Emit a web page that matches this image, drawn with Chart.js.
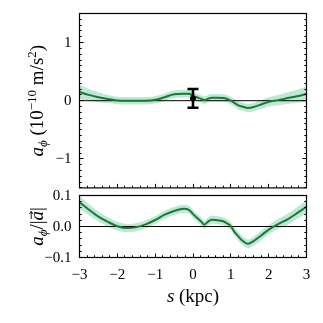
<!DOCTYPE html>
<html>
<head>
<meta charset="utf-8">
<script src="https://cdn.jsdelivr.net/npm/chart.js@4/dist/chart.umd.min.js"></script>
<style>
html, body { margin: 0; padding: 0; background: #fff; }
#wrap { position: relative; width: 323px; height: 323px; overflow: hidden; }
canvas { position: absolute; left: 0; }
#topPanel { top: 0; }
#ratioPanel { top: 190px; }
</style>
</head>
<body>
<div id="wrap">
  <canvas id="topPanel" width="323" height="196"></canvas>
  <canvas id="ratioPanel" width="323" height="133"></canvas>
</div>
<script>
// Position along the path, s (kpc)
const S = [-3, -2.75, -2.5, -2.25, -2, -1.75, -1.5, -1.25, -1, -0.75,
           -0.5, -0.25, -0.1, 0, 0.1, 0.2, 0.3, 0.4, 0.5, 0.6,
           0.8, 0.9, 1.0, 1.1, 1.2, 1.3, 1.45, 1.6, 1.8, 2.0,
           2.25, 2.5, 2.75, 3];

// Azimuthal acceleration a_phi (1e-10 m/s^2): median and band half-widths
const accMedian = [0.15, 0.10, 0.06, 0.03, 0.005, 0.0, 0.0, 0.0, 0.015, 0.06,
                   0.11, 0.12, 0.12, 0.08, 0.06, 0.035, 0.01, 0.035, 0.05, 0.05,
                   0.045, 0.03, 0.0, -0.04, -0.08, -0.10, -0.125, -0.11, -0.065, -0.02,
                   0.01, 0.045, 0.075, 0.115];
const accOuter = [0.12, 0.10, 0.085, 0.07, 0.065, 0.065, 0.065, 0.065, 0.065, 0.065,
                  0.065, 0.065, 0.065, 0.065, 0.065, 0.065, 0.065, 0.065, 0.065, 0.065,
                  0.065, 0.065, 0.065, 0.065, 0.07, 0.07, 0.07, 0.07, 0.075, 0.08,
                  0.09, 0.10, 0.115, 0.13];
const accInner = [0.065, 0.055, 0.045, 0.038, 0.033, 0.03, 0.03, 0.03, 0.03, 0.03,
                  0.03, 0.03, 0.03, 0.03, 0.03, 0.03, 0.03, 0.03, 0.03, 0.03,
                  0.03, 0.03, 0.03, 0.03, 0.033, 0.035, 0.035, 0.035, 0.038, 0.04,
                  0.045, 0.05, 0.057, 0.065];

// Ratio a_phi / |a|: median and band half-widths
const ratioMedian = [0.078, 0.054, 0.032, 0.015, 0.001, -0.005, -0.002, 0.007, 0.021, 0.038,
                     0.050, 0.057, 0.053, 0.040, 0.029, 0.018, 0.006, 0.016, 0.022, 0.021,
                     0.017, 0.010, 0.001, -0.018, -0.032, -0.045, -0.056, -0.047, -0.029, -0.010,
                     0.008, 0.023, 0.043, 0.064];
const ratioOuter = [0.02, 0.018, 0.016, 0.015, 0.014, 0.013, 0.013, 0.013, 0.013, 0.013,
                    0.013, 0.013, 0.013, 0.013, 0.013, 0.013, 0.013, 0.013, 0.013, 0.013,
                    0.013, 0.013, 0.013, 0.013, 0.014, 0.014, 0.014, 0.014, 0.015, 0.015,
                    0.016, 0.018, 0.019, 0.021];
const ratioInner = [0.008, 0.007, 0.006, 0.006, 0.005, 0.005, 0.005, 0.005, 0.005, 0.005,
                    0.005, 0.005, 0.005, 0.005, 0.005, 0.005, 0.005, 0.005, 0.005, 0.005,
                    0.005, 0.005, 0.005, 0.005, 0.005, 0.005, 0.005, 0.005, 0.006, 0.006,
                    0.006, 0.007, 0.008, 0.008];

// Local measurement with its error bar
const pointS = [0];
const pointAcc = [0.04];
const pointLow = [-0.12];
const pointHigh = [0.20];

// Axis ticks
const xTicks = [-3, -2, -1, 0, 1, 2, 3];
const accTicks = [-1, 0, 1];
const ratioTicks = [-0.1, 0, 0.1];

const SERIF = "'Liberation Serif', 'DejaVu Serif', serif";
const LINE_COLOR = '#1c7a2e';
const OUTER_COLOR = '#bfe7d8';
const INNER_COLOR = '#78cbae';

const pts = (ys) => S.map((s, i) => ({ x: s, y: ys[i] }));
const offset = (ys, hw, sign) => S.map((s, i) => ({ x: s, y: ys[i] + sign * hw[i] }));
const fmt = (v, d) => {
  const t = Math.abs(v).toFixed(d);
  return v < -1e-9 ? '\u2212' + t : t;
};

function bandDatasets(median, outer, inner) {
  const base = { pointRadius: 0, borderWidth: 0, tension: 0.4, order: 10 };
  return [
    Object.assign({ data: offset(median, outer, -1), fill: false }, base),
    Object.assign({ data: offset(median, outer, 1), fill: '-1', backgroundColor: OUTER_COLOR }, base),
    Object.assign({ data: offset(median, inner, -1), fill: false }, base),
    Object.assign({ data: offset(median, inner, 1), fill: '-1', backgroundColor: INNER_COLOR }, base),
  ];
}

function zeroLine() {
  return { data: [{ x: -3, y: 0 }, { x: 3, y: 0 }], borderColor: '#000', borderWidth: 1,
           pointRadius: 0, fill: false, order: 5 };
}

function medianLine(median) {
  return { data: pts(median), borderColor: LINE_COLOR, borderWidth: 2, pointRadius: 0,
           fill: false, cubicInterpolationMode: 'monotone', order: 3 };
}

// Frame, inward tick marks and tick labels for each panel
const frameTicks = {
  id: 'frameTicks',
  afterDraw(chart, args, opts) {
    const { ctx, chartArea: a } = chart;
    const xs = chart.scales.x, ys = chart.scales.y;
    ctx.save();
    ctx.strokeStyle = '#000';
    ctx.lineWidth = 1;
    const seg = (x1, y1, x2, y2) => { ctx.beginPath(); ctx.moveTo(x1, y1); ctx.lineTo(x2, y2); ctx.stroke(); };
    const n = Math.round((opts.yMax - opts.yMin) / opts.yMinor);
    for (let k = 0; k <= n; k++) {
      const v = opts.yMin + k * opts.yMinor;
      const major = opts.yMajor.some(m => Math.abs(m - v) < 1e-9);
      const len = major ? 4 : 2.2;
      const py = Math.round(ys.getPixelForValue(v) - 0.5) + 0.5;
      seg(a.left, py, a.left + len, py);
      seg(a.right, py, a.right - len, py);
    }
    const m = Math.round(6 / 0.2);
    for (let k = 0; k <= m; k++) {
      const v = -3 + k * 0.2;
      const major = xTicks.some(t => Math.abs(t - v) < 1e-9);
      const len = major ? 4 : 2.2;
      const px = Math.round(xs.getPixelForValue(v) - 0.5) + 0.5;
      seg(px, a.bottom, px, a.bottom - len);
    }
    ctx.lineWidth = 1.2;
    ctx.strokeRect(a.left, a.top, a.right - a.left, a.bottom - a.top);

    ctx.fillStyle = '#000';
    ctx.font = `15px ${SERIF}`;
    ctx.textAlign = 'right';
    ctx.textBaseline = 'middle';
    for (const v of opts.yMajor) {
      ctx.fillText(fmt(v, opts.yDigits), a.left - 8, ys.getPixelForValue(v) + 0.5);
    }
    if (opts.xLabels) {
      ctx.textAlign = 'center';
      for (const v of xTicks) {
        ctx.fillText(fmt(v, 0), xs.getPixelForValue(v), a.bottom + 18);
      }
    }
    ctx.restore();
  }
};

// Axis titles with sub/superscripts
function drawRich(ctx, x, y, pieces, vertical) {
  ctx.save();
  ctx.translate(x, y);
  if (vertical) ctx.rotate(-Math.PI / 2);
  ctx.fillStyle = '#000';
  ctx.textBaseline = 'alphabetic';
  ctx.textAlign = 'left';
  let total = 0;
  for (const p of pieces) { ctx.font = p.font; p.w = ctx.measureText(p.t).width; total += p.w; }
  let cx = -total / 2;
  for (const p of pieces) {
    ctx.font = p.font;
    ctx.fillText(p.t, cx, p.dy || 0);
    if (p.vec) {
      // arrow accent over the glyph
      const yA = -p.size * 0.62, x0 = cx + 1.5, x1 = cx + p.w - 0.5;
      ctx.strokeStyle = '#000';
      ctx.lineWidth = 0.9;
      ctx.beginPath(); ctx.moveTo(x0, yA); ctx.lineTo(x1, yA); ctx.stroke();
      ctx.beginPath(); ctx.moveTo(x1 - 2.5, yA - 1.8); ctx.lineTo(x1, yA); ctx.lineTo(x1 - 2.5, yA + 1.8); ctx.stroke();
    }
    cx += p.w;
  }
  ctx.restore();
}

const F = 19, f = 13;
const italic = (sz) => `italic ${sz}px ${SERIF}`;
const roman = (sz) => `${sz}px ${SERIF}`;

const accTitle = {
  id: 'accTitle',
  afterDraw(chart) {
    const a = chart.chartArea;
    drawRich(chart.ctx, 43, (a.top + a.bottom) / 2, [
      { t: 'a', font: italic(F) },
      { t: '\u03D5', font: italic(f), dy: 4 },
      { t: ' (10', font: roman(F) },
      { t: '\u221210', font: roman(f), dy: -7.5 },
      { t: ' m/s', font: roman(F) },
      { t: '2', font: roman(f), dy: -7.5 },
      { t: ')', font: roman(F) },
    ], true);
  }
};

const ratioTitles = {
  id: 'ratioTitles',
  afterDraw(chart) {
    const a = chart.chartArea;
    drawRich(chart.ctx, 43, (a.top + a.bottom) / 2, [
      { t: 'a', font: italic(F) },
      { t: '\u03D5', font: italic(f), dy: 4 },
      { t: '/|', font: roman(F) },
      { t: 'a', font: italic(F), vec: true, size: F },
      { t: '|', font: roman(F) },
    ], true);
    drawRich(chart.ctx, (a.left + a.right) / 2, 112, [
      { t: 's', font: italic(F) },
      { t: ' (kpc)', font: roman(F) },
    ], false);
  }
};

const hiddenAxis = (min, max) => ({ type: 'linear', min, max, display: false });

// Upper panel: a_phi
new Chart(document.getElementById('topPanel'), {
  type: 'line',
  data: {
    datasets: [
      ...bandDatasets(accMedian, accOuter, accInner),
      zeroLine(),
      medianLine(accMedian),
      { data: [{ x: pointS[0], y: pointLow[0] }, { x: pointS[0], y: pointHigh[0] }],
        borderColor: '#000', borderWidth: 2.6, pointStyle: 'line', pointRadius: 5.5,
        pointBorderWidth: 2.6, pointBorderColor: '#000', fill: false, order: 1 },
      { data: pointS.map((s, i) => ({ x: s, y: pointAcc[i] })), showLine: false,
        pointRadius: 2.6, pointBackgroundColor: '#000', pointBorderColor: '#000', order: 0 },
    ]
  },
  options: {
    responsive: false, animation: false,
    layout: { padding: { top: 13.5, right: 16.5, bottom: 0.5, left: 79.5 } },
    plugins: { legend: { display: false }, tooltip: { enabled: false },
               frameTicks: { yMin: -1.5, yMax: 1.5, yMinor: 0.1, yMajor: accTicks, yDigits: 0, xLabels: false } },
    scales: { x: hiddenAxis(-3, 3), y: hiddenAxis(-1.5, 1.5) }
  },
  plugins: [frameTicks, accTitle]
});

// Lower panel: a_phi / |a|
new Chart(document.getElementById('ratioPanel'), {
  type: 'line',
  data: {
    datasets: [
      ...bandDatasets(ratioMedian, ratioOuter, ratioInner),
      zeroLine(),
      medianLine(ratioMedian),
    ]
  },
  options: {
    responsive: false, animation: false,
    layout: { padding: { top: 5.5, right: 16.5, bottom: 65.5, left: 79.5 } },
    plugins: { legend: { display: false }, tooltip: { enabled: false },
               frameTicks: { yMin: -0.1, yMax: 0.1, yMinor: 0.02, yMajor: ratioTicks, yDigits: 1, xLabels: true } },
    scales: { x: hiddenAxis(-3, 3), y: hiddenAxis(-0.1, 0.1) }
  },
  plugins: [frameTicks, ratioTitles]
});
</script>
</body>
</html>
